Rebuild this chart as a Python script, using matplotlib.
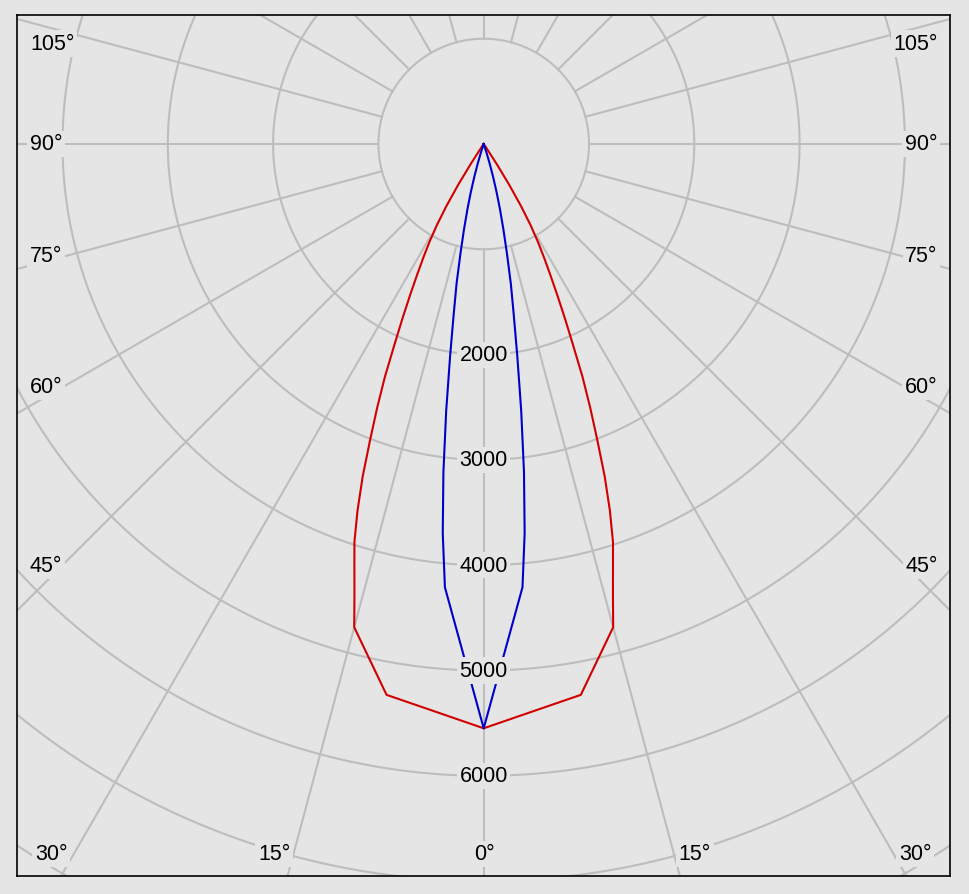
"""Polar luminous-intensity diagram (cd), two C-planes, cropped to a frame."""

import numpy as np
import matplotlib
matplotlib.use("Agg")
import matplotlib.pyplot as plt

# gamma angle (deg from nadir) -> intensity (cd); curves are mirrored left/right
RED_ANGLES = [0, 5, 10, 15, 16, 17, 18, 19, 20, 21, 22, 23, 24, 25, 26, 27,
              28, 29, 30, 31, 32, 33, 34, 35]
RED_CD = [5549, 5407, 5312, 4751, 4453, 4200, 3973, 3680, 3360, 3010, 2700,
          2400, 2080, 1820, 1590, 1390, 1220, 1060, 890, 690, 460, 230, 60, 0]
BLUE_ANGLES = [0, 5, 6, 7, 8, 9, 10, 11, 12, 13, 14, 15, 16, 17, 18, 19, 20]
BLUE_CD = [5549, 4226, 3720, 3140, 2560, 2040, 1640, 1350, 1060, 830, 640,
           470, 320, 190, 90, 25, 0]

RINGS = [1000, 2000, 3000, 4000, 5000, 6000, 7000, 8000]
RING_LABELS = [2000, 3000, 4000, 5000, 6000]
SPOKES = list(range(0, 360, 15))
SIDE_LABELS = ["105°", "90°", "75°", "60°", "45°"]
BOTTOM_LABELS = ["30°", "15°", "0°", "15°", "30°"]

BG = "#e5e5e5"
GRID = "#bdbdbd"
FONT = "Liberation Sans"

W, H = 969, 895
# frame in pixels and the polar centre
FL, FT, FR, FB = 16.5, 16, 950, 877
CX, CY = 483.7, 145
PX_PER_CD = 0.1053


def mirrored(angles, cd):
    a = np.asarray(angles, float)
    v = np.asarray(cd, float)
    g = np.deg2rad(np.r_[-a[::-1], a[1:]])
    r = np.r_[v[::-1], v[1:]]
    return r * np.sin(g), -r * np.cos(g)


def ax_frac(px, py):
    return (px - FL) / (FR - FL), 1 - (py - FT) / (FB - FT)


fig = plt.figure(figsize=(W / 100, H / 100), dpi=100, facecolor=BG)
ax = fig.add_axes([FL / W, 1 - FB / H, (FR - FL) / W, (FB - FT) / H])
ax.set_facecolor(BG)
ax.set_xlim((FL - CX) / PX_PER_CD, (FR - CX) / PX_PER_CD)
ax.set_ylim(-(FB - CY) / PX_PER_CD, (CY - FT) / PX_PER_CD)
ax.set_xticks([])
ax.set_yticks([])
for s in ax.spines.values():
    s.set_color("black")
    s.set_linewidth(1.2)

# grid: full rings, spokes from the first ring outward
t = np.linspace(0, 2 * np.pi, 721)
for r in RINGS:
    ax.plot(r * np.cos(t), r * np.sin(t), color=GRID, lw=1.5, zorder=1)
for phi in SPOKES:
    p = np.deg2rad(phi)
    rr = np.array([RINGS[0], 12000])
    ax.plot(rr * np.sin(p), -rr * np.cos(p), color=GRID, lw=1.5, zorder=1)

# curves
xr, yr = mirrored(RED_ANGLES, RED_CD)
ax.plot(xr, yr, color="#d00000", lw=1.5, zorder=3)
xb, yb = mirrored(BLUE_ANGLES, BLUE_CD)
ax.plot(xb, yb, color="#0000c8", lw=1.5, zorder=3)

box = dict(boxstyle="square,pad=0.12", fc=BG, ec="none")
txt = dict(fontsize=15.5, family=FONT, color="black", zorder=5, bbox=box)

for r in RING_LABELS:
    ax.text(0, -r, str(r), ha="center", va="center", **txt)

side_y = [44.5, 145, 257, 388, 567]
for lab, py in zip(SIDE_LABELS, side_y):
    ax.text(*ax_frac(30, py), lab, transform=ax.transAxes,
            ha="left", va="center", **txt)
    ax.text(*ax_frac(937.5, py), lab, transform=ax.transAxes,
            ha="right", va="center", **txt)

bottom_x = [51, 274, 484, 695, 915]
for lab, px in zip(BOTTOM_LABELS, bottom_x):
    ax.text(*ax_frac(px, 855), lab, transform=ax.transAxes,
            ha="center", va="center", **txt)

fig.savefig("out.png", dpi=100, facecolor=BG)
